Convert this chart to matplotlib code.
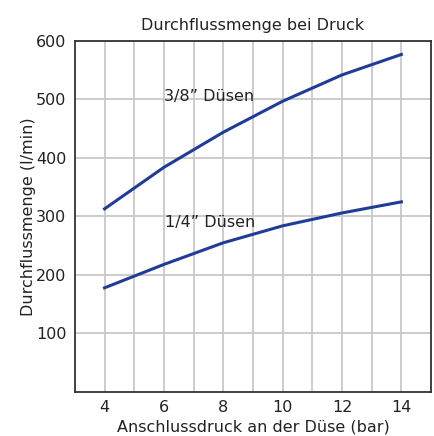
import matplotlib
matplotlib.use('Agg')
import matplotlib.pyplot as plt

# Daten
druck = [4, 6, 8, 10, 12, 14]
duese_38 = [313, 384, 444, 497, 542, 577]
duese_14 = [178, 218, 255, 284, 306, 325]
linienfarbe = '#1f3d98'

fig = plt.figure(figsize=(4.35, 4.36), dpi=100)
ax = fig.add_axes([0.172, 0.101, 0.819, 0.805])

ax.plot(druck, duese_38, color=linienfarbe, lw=2.2, zorder=3)
ax.plot(druck, duese_14, color=linienfarbe, lw=2.2, zorder=3)

ax.text(6.0, 505, '3/8\u201d Düsen', fontsize=11.5, color='#222222', va='center', ha='left')
ax.text(6.05, 290, '1/4\u201d Düsen', fontsize=11.5, color='#222222', va='center', ha='left')

ax.set_xlim(3, 15)
ax.set_ylim(0, 600)
ax.set_xticks([4, 6, 8, 10, 12, 14])
ax.set_xticks(range(4, 15), minor=True)
ax.set_yticks([100, 200, 300, 400, 500, 600])
ax.grid(True, which='both', axis='x', color='#c8c8c8', lw=1.3)
ax.grid(True, axis='y', color='#c8c8c8', lw=1.3)
ax.tick_params(which='both', length=0, labelsize=11.5, colors='#222222', pad=6)
for s in ax.spines.values():
    s.set_color('#333333')
    s.set_linewidth(1.3)

ax.set_title('Durchflussmenge bei Druck', fontsize=11.5, color='#222222', pad=8)
ax.set_xlabel('Anschlussdruck an der Düse (bar)', fontsize=11.5, color='#222222', labelpad=3)
ax.set_ylabel('Durchflussmenge (l/min)', fontsize=11.5, color='#222222', labelpad=0)

fig.savefig('out.png', dpi=100)
